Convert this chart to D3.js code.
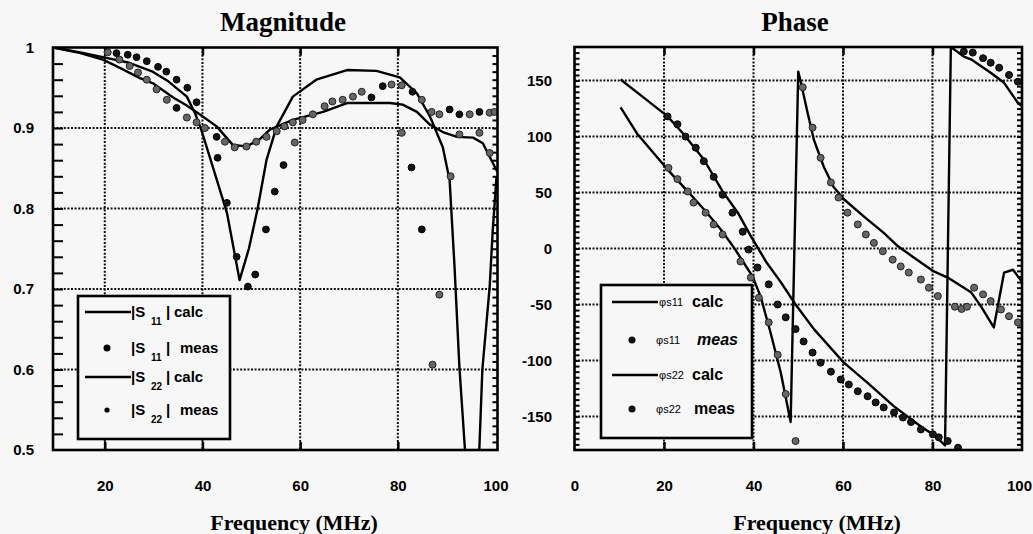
<!DOCTYPE html>
<html><head><meta charset="utf-8">
<script src="https://cdn.jsdelivr.net/npm/d3@7"></script>
<style>body{margin:0;background:#f7f7f7;} svg{display:block}</style>
</head><body><svg id="c" width="1033" height="534"></svg>
<script>
// ---------- Magnitude panel data: [frequency MHz, |S|] ----------
const s11CalcMag = [[9.5,1.0],[15,0.994],[19.6,0.988],[25,0.981],[29.8,0.970],[33,0.958],[36.8,0.939],[38.5,0.918],[39.8,0.897],[42.1,0.852],[45,0.795],[47.6,0.711],[49.5,0.75],[51.3,0.80],[53.1,0.86],[55.2,0.902],[58.5,0.939],[63.3,0.96],[69.6,0.972],[75.6,0.971],[80.4,0.963],[83.9,0.943],[86.6,0.914],[89.2,0.876],[90.6,0.835],[91.6,0.728],[92.6,0.603],[93.7,0.504],[94.5,0.40],[96.2,0.40],[96.7,0.504],[97.3,0.6],[98.8,0.703],[99.4,0.77],[100.2,0.84]];
const s22CalcMag = [[9.5,1.0],[15,0.993],[19.6,0.985],[23,0.975],[27.2,0.962],[30,0.955],[34,0.938],[36.8,0.928],[39.4,0.917],[42.9,0.902],[46.2,0.879],[49,0.877],[51.7,0.886],[53.8,0.898],[58.5,0.910],[64.7,0.920],[69.6,0.931],[78.4,0.931],[81,0.929],[83.9,0.920],[86.6,0.904],[89.2,0.895],[92.1,0.889],[95.4,0.888],[97.4,0.881],[99.5,0.856],[100.4,0.845]];
const s11MeasMag = [[22.4,0.993],[24.7,0.991],[26.5,0.988],[28.6,0.983],[30.9,0.976],[32.6,0.970],[34.7,0.960],[36.9,0.950],[38.8,0.932],[34.7,0.925],[42.9,0.889],[43.1,0.863],[45,0.807],[47,0.740],[49.3,0.703],[50.8,0.718],[53,0.774],[54.8,0.821],[56.6,0.854],[74.6,0.938],[76.9,0.952],[83,0.945],[82.8,0.851],[84.9,0.774],[90.6,0.923],[92.6,0.917],[96.7,0.920]];
const s22MeasMag = [[20.6,0.994],[23,0.985],[25.1,0.977],[26.8,0.969],[28.6,0.960],[30.6,0.948],[32.7,0.935],[36.8,0.913],[38.8,0.907],[40.5,0.900],[44.6,0.883],[46.6,0.876],[49,0.877],[51,0.883],[53.1,0.889],[55.2,0.896],[56.8,0.902],[58.5,0.907],[58.9,0.882],[60.5,0.910],[62.6,0.917],[65,0.927],[66.6,0.933],[68.7,0.935],[70.8,0.939],[72.6,0.945],[78.7,0.954],[80.8,0.953],[80.8,0.894],[84.9,0.935],[86.9,0.920],[88.5,0.917],[87.1,0.606],[88.5,0.693],[90.8,0.840],[94.7,0.917],[92.6,0.892],[96.7,0.894],[98.8,0.919],[98.8,0.869],[99.8,0.920]];
const magXTicks = [20,40,60,80,100];
const magYTicks = [0.5,0.6,0.7,0.8,0.9,1];

// ---------- Phase panel data: [frequency MHz, degrees] ----------
const s11CalcPhase = [[10.3,151],[15.4,135],[20.8,118],[24.4,102],[28.9,79.5],[33.1,51],[36.5,32],[39.4,11],[40.9,1],[43,-13],[46.1,-30],[49.4,-50],[53.5,-72],[60.2,-102],[65.5,-120],[71.4,-141],[77.4,-159],[80.8,-168],[82.8,-176],[84.1,180],[87,171.5],[88.6,169],[93,157],[96,148],[99.1,130],[100,127]];
const s22CalcPhase = [[10.3,126],[14.1,102],[20.8,70.5],[25.3,51],[28.9,35],[32.7,17],[35.6,1],[39.8,-25],[41.6,-43],[43.8,-75],[46.1,-111],[48.3,-155],[50.0,158],[50.6,148],[52.1,121],[53.5,97],[55.7,73],[57.9,55],[60.2,44],[64.7,28.5],[69.1,14],[72.3,2],[75.8,-8],[80.3,-20.5],[83.4,-26],[88.6,-39],[90.8,-51.5],[93.7,-70.5],[96,-21.5],[98,-19],[99.3,-26],[100,-30]];
const s11MeasPhase = [[20.8,118],[23,111],[24.8,100],[27.1,90],[28.9,78],[31.1,64],[33.1,48],[35.3,32],[37.6,15],[38.9,-1],[40.9,-17],[43.4,-32],[45.4,-50],[47.2,-61.5],[49.4,-72],[51.2,-83],[53.2,-93],[55,-102],[57.3,-110],[59.5,-117],[61.3,-121.5],[63.3,-127.5],[65.5,-132],[67.3,-137.5],[69.1,-142],[71.4,-146.5],[73.4,-151],[75.2,-155],[77.4,-161.6],[80.1,-166],[81.4,-168.7],[83.4,-172],[85.7,-178],[87,176],[89,175],[91.3,170],[93,166],[94.9,161.5],[97.1,155],[99.1,149]];
const s22MeasPhase = [[21,72],[23,62],[25.3,51],[26.6,41],[29.3,32],[31.1,21.5],[33.1,12.5],[37.1,-11.6],[39.4,-26],[41.2,-44],[43.4,-66],[45.4,-95],[47.2,-130],[49.4,-172],[51,144],[53.2,108],[55,81],[57.3,59],[59,45.5],[61,32],[63.3,21.5],[65.1,12.5],[66.9,5],[68.9,-2.5],[71.1,-10],[72.9,-16],[74.7,-21.5],[77.4,-27.7],[79.2,-35],[81.2,-42.5],[85,-52],[86.5,-54],[87.7,-52],[89.3,-35],[91.3,-41],[93,-47],[95.3,-54.5],[97.1,-60.5],[99.1,-66]];
const phaseXTicks = [0,20,40,60,80,100];
const phaseYTicks = [-150,-100,-50,0,50,100,150];

const BG = "#f7f7f7";
const svg = d3.select("#c");
svg.append("rect").attr("width",1033).attr("height",534).attr("fill",BG);

const sans = "'Liberation Sans', Arial, sans-serif";
const serif = "'Liberation Serif', 'Times New Roman', serif";

function panel(cfg){
  const {x, y, id} = cfg;
  const [x0,x1] = x.range(), [y0,y1] = y.range(); // y0 bottom, y1 top
  const g = svg.append("g");
  svg.append("clipPath").attr("id",id).append("rect")
    .attr("x",x0).attr("y",y1).attr("width",x1-x0).attr("height",y0-y1);

  // dotted grid
  const grid = g.append("g").attr("stroke","#111").attr("stroke-width",2).attr("stroke-dasharray","2,1.6");
  grid.selectAll(".v").data(cfg.gridX).join("line")
    .attr("x1",d=>x(d)).attr("x2",d=>x(d)).attr("y1",y1).attr("y2",y0);
  grid.selectAll(".h").data(cfg.gridY).join("line")
    .attr("x1",x0).attr("x2",x1).attr("y1",d=>y(d)).attr("y2",d=>y(d));

  // inward tick marks
  const yl = cfg.minorLeft, yr = cfg.minorRight;
  g.append("g").attr("transform",`translate(${x0},0)`)
    .call(d3.axisLeft(y).tickValues(yl.vals).tickSize(-yl.len).tickFormat(""))
    .call(s=>{s.select(".domain").remove(); s.selectAll("line").attr("stroke","#000").attr("stroke-width",2);});
  g.append("g").attr("transform",`translate(${x1},0)`)
    .call(d3.axisRight(y).tickValues(yr.vals).tickSize(-yr.len).tickFormat(""))
    .call(s=>{s.select(".domain").remove(); s.selectAll("line").attr("stroke","#000").attr("stroke-width",2);});
  g.append("g").attr("transform",`translate(0,${y1})`)
    .call(d3.axisTop(x).tickValues(cfg.gridX).tickSize(-8).tickFormat(""))
    .call(s=>{s.select(".domain").remove(); s.selectAll("line").attr("stroke","#000").attr("stroke-width",2.5);});
  g.append("g").attr("transform",`translate(0,${y0})`)
    .call(d3.axisBottom(x).tickValues(cfg.gridX).tickSize(-8).tickFormat(""))
    .call(s=>{s.select(".domain").remove(); s.selectAll("line").attr("stroke","#000").attr("stroke-width",2.5);});

  // labels
  g.append("g").attr("transform",`translate(${x0},0)`)
    .call(d3.axisLeft(y).tickValues(cfg.yTicks).tickSize(0).tickPadding(cfg.yPad).tickFormat(d=>String(d)))
    .call(s=>{s.select(".domain").remove(); s.selectAll("text").attr("font-family",sans).attr("font-weight","bold").attr("font-size",15).attr("fill","#000");});
  g.append("g").attr("transform",`translate(0,${y0})`)
    .call(d3.axisBottom(x).tickValues(cfg.xTicks).tickSize(0).tickPadding(30).tickFormat(d=>String(d)))
    .call(s=>{s.select(".domain").remove(); s.selectAll("text").attr("font-family",sans).attr("font-weight","bold").attr("font-size",15).attr("fill","#000")
      .attr("dx",d=>d===100?cfg.lastDx:0);});

  // curves
  const line = d3.line().x(d=>x(d[0])).y(d=>y(d[1]));
  const cg = g.append("g").attr("clip-path",`url(#${id})`);
  cfg.lines.forEach(L=>{
    cg.append("path").datum(L).attr("d",line).attr("fill","none").attr("stroke","#000")
      .attr("stroke-width",2.4).attr("stroke-linejoin","round");
  });
  cfg.points.forEach(P=>{
    cg.append("g").selectAll("circle").data(P.data).join("circle")
      .attr("cx",d=>x(d[0])).attr("cy",d=>y(d[1])).attr("r",P.r)
      .attr("fill",P.fill).attr("stroke",P.stroke).attr("stroke-width",1);
  });

  // frame
  g.append("rect").attr("x",x0).attr("y",y1).attr("width",x1-x0).attr("height",y0-y1)
    .attr("fill","none").attr("stroke","#000").attr("stroke-width",2.6);

  // titles
  g.append("text").attr("x",cfg.titleX).attr("y",31).attr("text-anchor","middle")
    .attr("font-family",serif).attr("font-weight","bold").attr("font-size",27).text(cfg.title);
  g.append("text").attr("x",cfg.xlabX).attr("y",530).attr("text-anchor","middle")
    .attr("font-family",serif).attr("font-weight","bold").attr("font-size",22).text("Frequency (MHz)");
  return g;
}

const xm = d3.scaleLinear([9.4,100.4],[53,497.5]);
const ym = d3.scaleLinear([0.5,1],[450,47.5]);
panel({id:"clipm", x:xm, y:ym, title:"Magnitude", titleX:283, xlabX:294,
  gridX:[20,40,60,80], gridY:[0.6,0.7,0.8,0.9],
  minorLeft:{vals:d3.range(0.52,0.99,0.02), len:10},
  minorRight:{vals:d3.range(0.51,0.995,0.01), len:5},
  xTicks:magXTicks, yTicks:magYTicks, yPad:19, lastDx:0,
  lines:[s11CalcMag, s22CalcMag],
  points:[{data:s22MeasMag, r:3.5, fill:"#666", stroke:"#222"},
          {data:s11MeasMag, r:3.4, fill:"#111", stroke:"#000"}]});

const xp = d3.scaleLinear([0,100],[574.5,1022]);
const yp = d3.scaleLinear([-180,180],[450,47]);
panel({id:"clipp", x:xp, y:yp, title:"Phase", titleX:795, xlabX:817,
  gridX:[20,40,60,80], gridY:[-150,-100,-50,0,50,100,150],
  minorLeft:{vals:d3.range(-175,180,5), len:5},
  minorRight:{vals:d3.range(-175,180,5), len:5},
  xTicks:phaseXTicks, yTicks:phaseYTicks, yPad:22.5, lastDx:-3,
  lines:[s11CalcPhase, s22CalcPhase],
  points:[{data:s22MeasPhase, r:3.5, fill:"#666", stroke:"#222"},
          {data:s11MeasPhase, r:3.5, fill:"#1a1a1a", stroke:"#000"}]});

// ---------- legends ----------
function legendBox(x,y,w,h){
  svg.append("rect").attr("x",x).attr("y",y).attr("width",w).attr("height",h)
    .attr("fill",BG).attr("stroke","#000").attr("stroke-width",2.6);
}
legendBox(78,296,152,143);
const magLegend = [
  {kind:"line", y:312, sub:"11", word:"calc", wx:174},
  {kind:"dot", y:348, r:3.5, sub:"11", word:"meas", wx:180},
  {kind:"line", y:377, sub:"22", word:"calc", wx:174},
  {kind:"dot", y:410, r:2.6, sub:"22", word:"meas", wx:180}
];
magLegend.forEach(d=>{
  if(d.kind==="line") svg.append("line").attr("x1",85).attr("x2",131).attr("y1",d.y).attr("y2",d.y).attr("stroke","#000").attr("stroke-width",2.4);
  else svg.append("circle").attr("cx",107).attr("cy",d.y).attr("r",d.r).attr("fill","#000");
  const t = svg.append("text").attr("font-family",sans).attr("font-weight","bold").attr("font-size",15).attr("y",d.y+5);
  t.append("tspan").attr("x",131).text("|S");
  t.append("tspan").attr("x",151).attr("dy",8).attr("font-size",10).text(d.sub);
  t.append("tspan").attr("x",166).attr("dy",-8).text("|");
  t.append("tspan").attr("x",d.wx).text(d.word);
});

legendBox(601,285,151,153);
const phLegend = [
  {kind:"line", y:302, sub:"s11", word:"calc", wx:692, italic:false},
  {kind:"dot", y:340, sub:"s11", word:"meas", wx:697, italic:true},
  {kind:"line", y:375, sub:"s22", word:"calc", wx:692, italic:false},
  {kind:"dot", y:409, sub:"s22", word:"meas", wx:694, italic:false}
];
phLegend.forEach(d=>{
  if(d.kind==="line") svg.append("line").attr("x1",612).attr("x2",658).attr("y1",d.y).attr("y2",d.y).attr("stroke","#000").attr("stroke-width",2.4);
  else svg.append("circle").attr("cx",632).attr("cy",d.y).attr("r",3.5).attr("fill","#111");
  svg.append("text").attr("x",d.kind==="line"?659:656).attr("y",d.y+4).attr("font-family",sans)
    .attr("font-size",11).text("φ"+d.sub);
  svg.append("text").attr("x",d.wx).attr("y",d.y+5).attr("font-family",sans).attr("font-weight","bold")
    .attr("font-size",16).attr("font-style",d.italic?"italic":"normal").text(d.word);
});
</script></body></html>
